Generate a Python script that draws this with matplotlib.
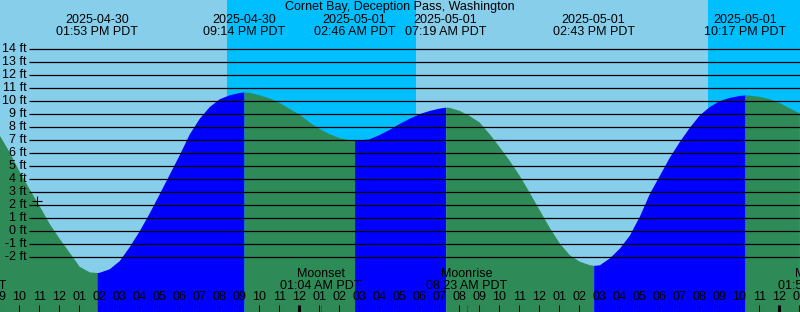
import numpy as np
import matplotlib.pyplot as plt
from matplotlib.transforms import blended_transform_factory

plt.rcParams['font.family'] = ['Liberation Sans', 'DejaVu Sans']
plt.rcParams['font.size'] = 9

title = 'Cornet Bay, Deception Pass, Washington'

# hours since 2025-04-30 00:00 PDT, tide height in ft
times = [9.0, 9.5, 10.0, 10.5, 11.0, 11.5, 12.0, 12.5, 13.0, 13.5,
         14.0, 14.5, 15.0, 15.5, 16.0, 16.5, 17.0, 17.5, 18.0, 18.5,
         19.0, 19.5, 20.0, 20.5, 21.0, 21.5, 22.0, 22.5, 23.0, 23.5,
         24.0, 24.5, 25.0, 25.5, 26.0, 26.5, 27.0, 27.5, 28.0, 28.5,
         29.0, 29.5, 30.0, 30.5, 31.0, 31.5, 32.0, 32.5, 33.0, 33.5,
         34.0, 34.5, 35.0, 35.5, 36.0, 36.5, 37.0, 37.5, 38.0, 38.5,
         39.0, 39.5, 40.0, 40.5, 41.0, 41.5, 42.0, 42.5, 43.0, 43.5,
         44.0, 44.5, 45.0, 45.5, 46.0, 46.5, 47.0, 47.5, 48.0, 48.5, 49.0]
heights = [7.4, 6.1, 4.6, 3.25, 1.95, 0.6, -0.56, -1.62, -2.7, -3.12,
           -3.15, -2.88, -2.25, -1.17, 0.05, 1.43, 2.9, 4.4, 5.9, 7.5,
           8.7, 9.6, 10.2, 10.5, 10.68, 10.68, 10.5, 10.25, 9.9, 9.45,
           9.0, 8.4, 7.9, 7.5, 7.2, 7.03, 7.02, 7.12, 7.45, 7.85,
           8.3, 8.7, 9.05, 9.3, 9.48, 9.53, 9.3, 8.9, 8.4, 7.5,
           6.5, 5.45, 4.3, 3.0, 1.65, 0.3, -0.9, -1.8, -2.3, -2.57,
           -2.58, -2.05, -1.3, -0.3, 1.15, 2.9, 4.3, 5.7, 6.9, 8.0,
           8.95, 9.6, 10.05, 10.3, 10.45, 10.47, 10.38, 10.2, 9.9, 9.5, 9.1]

# high / low tides
ext_times = [13.883, 21.233, 26.767, 31.317, 38.717, 46.283]
ext_heights = [-3.17, 10.72, 7.0, 9.55, -2.62, 10.49]
ext_dates = ['2025-04-30', '2025-04-30', '2025-05-01', '2025-05-01', '2025-05-01', '2025-05-01']
ext_clock = ['01:53 PM PDT', '09:14 PM PDT', '02:46 AM PDT', '07:19 AM PDT', '02:43 PM PDT', '10:17 PM PDT']

sunsets = [20.37, 44.43]
sunrises = [29.83]

moon_times = [7.333, 25.067, 32.383, 49.983]
moon_names = ['Moonrise', 'Moonset', 'Moonrise', 'Moonset']
moon_clock = ['07:20 AM PDT', '01:04 AM PDT', '08:23 AM PDT', '01:59 AM PDT']

now_time = 10.87
now_height = 2.35

W, H = 800, 312
PX_PER_HOUR = 20.0
X0 = -180.7          # pixel x of hour 0
Y0, PX_PER_FT = 231.3, 13.0   # pixel y of 0 ft

day_col = '#87CEEB'
night_col = '#00BFFF'
fall_col = '#2E8B57'
rise_col = '#0000FF'


def hx(px):
    return (px - X0) / PX_PER_HOUR


def fy(py):
    return 1 - py / H


def main():
    fig = plt.figure(figsize=(W / 100, H / 100), dpi=100)
    ax = fig.add_axes([0, 0, 1, 1])
    ax.set_axis_off()
    xmin, xmax = hx(0), hx(W)
    ax.set_xlim(xmin, xmax)
    ax.set_ylim((Y0 - H) / PX_PER_FT, Y0 / PX_PER_FT)
    trans = blended_transform_factory(ax.transData, ax.transAxes)

    # day / night sky
    edges = sorted([(t, 'night') for t in sunsets] + [(t, 'day') for t in sunrises])
    start, state = xmin - 1, 'day'
    for t, nxt in edges:
        ax.axvspan(start, t, color=day_col if state == 'day' else night_col, lw=0)
        start, state = t, nxt
    ax.axvspan(start, xmax + 1, color=day_col if state == 'day' else night_col, lw=0)

    # tide curve, green while falling, blue while rising
    t_all = np.array(times + ext_times)
    h_all = np.array(heights + ext_heights)
    order = np.argsort(t_all)
    t_all, h_all = t_all[order], h_all[order]
    bounds = [xmin - 1] + ext_times + [xmax + 1]
    for i in range(len(bounds) - 1):
        a, b = bounds[i], bounds[i + 1]
        if i < len(ext_heights):
            rising = i > 0 and ext_heights[i] > ext_heights[i - 1]
        else:
            rising = False
        mask = (t_all >= a) & (t_all <= b)
        ax.fill_between(t_all, -10, h_all, where=mask, color=rise_col if rising else fall_col,
                        lw=0, antialiased=False)

    # height grid
    for v in range(-2, 15):
        ax.hlines(v, hx(29), xmax + 1, color='black', lw=0.9)
        ax.text(hx(27), v, '%d ft' % v, ha='right', va='center')

    ax.plot(now_time, now_height, marker='+', color='black', ms=7, mew=0.8)

    fig.text(0.5, fy(7), title, ha='center', va='center')
    for t, d, c in zip(ext_times, ext_dates, ext_clock):
        ax.text(t, fy(20), d, transform=trans, ha='center', va='center')
        ax.text(t, fy(32), c, transform=trans, ha='center', va='center')

    for t, n, c in zip(moon_times, moon_names, moon_clock):
        ax.text(t, fy(274), n, transform=trans, ha='center', va='center')
        ax.text(t, fy(286), c, transform=trans, ha='center', va='center')
        ax.vlines(t, 0, fy(305), transform=trans, color='red', lw=0.75)

    for hr in range(9, 50):
        ax.text(hr, fy(297), '%02d' % ((hr % 12) or 12), transform=trans, ha='center', va='center')
        lw = 2.2 if hr % 24 == 0 else 0.75
        ax.vlines(hr, 0, fy(305), transform=trans, color='black', lw=lw)

    fig.savefig('out.png', dpi=100)


if __name__ == '__main__':
    main()
